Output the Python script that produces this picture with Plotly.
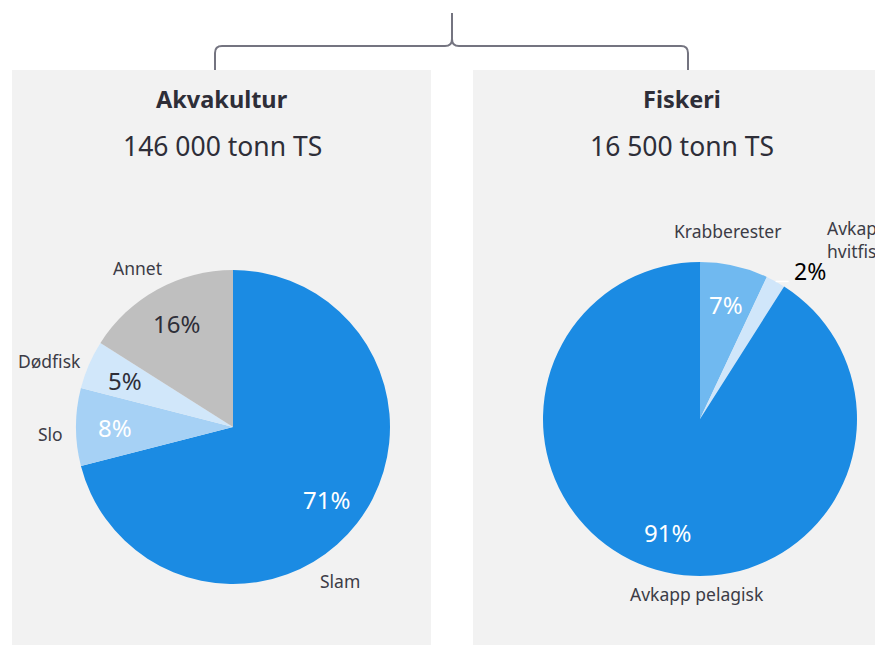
import math
import plotly.graph_objects as go

# ---- data ----
akva_labels = ["Slam", "Slo", "Dødfisk", "Annet"]
akva_values = [71, 8, 5, 16]
akva_colors = ["#1b8be3", "#a6d1f5", "#d1e7fa", "#bfbfbf"]
akva_text_colors = ["#ffffff", "#ffffff", "#2e2e38", "#2e2e38"]

fisk_labels = ["Krabberester", "Avkapp<br>hvitfisk", "Avkapp pelagisk"]
fisk_values = [7, 2, 91]
fisk_colors = ["#70b9f0", "#d0e6fa", "#1b8be3"]
fisk_text_colors = ["#ffffff", "#000000", "#ffffff"]

panel_titles = ["Akvakultur", "Fiskeri"]
panel_subtitles = ["146 000 tonn TS", "16 500 tonn TS"]

W, H = 875, 645
FONT = "Noto Sans"
LABEL_COLOR = "#3c3c46"
TITLE_COLOR = "#2e2e38"


def px(x):
    return x / W


def py(y):
    return 1 - y / H


fig = go.Figure()

# pie geometry in pixels (centre x, centre y, radius)
pies = [
    dict(cx=233, cy=427, r=157, labels=akva_labels, values=akva_values,
         colors=akva_colors, tcol=akva_text_colors),
    dict(cx=700, cy=419, r=157, labels=fisk_labels, values=fisk_values,
         colors=fisk_colors, tcol=fisk_text_colors),
]

for p in pies:
    fig.add_trace(go.Pie(
        labels=p["labels"], values=p["values"],
        marker=dict(colors=p["colors"], line=dict(width=0)),
        sort=False, direction="clockwise", rotation=0,
        textinfo="none", hoverinfo="label+percent", showlegend=False,
        domain=dict(x=[px(p["cx"] - p["r"]), px(p["cx"] + p["r"])],
                    y=[py(p["cy"] + p["r"]), py(p["cy"] - p["r"])]),
    ))

annotations = []
shapes = []

# grey panels
for x0, x1 in [(12, 431), (473, 892)]:
    shapes.append(dict(type="rect", xref="paper", yref="paper",
                       x0=px(x0), x1=px(x1), y0=py(645), y1=py(70),
                       fillcolor="#f2f2f2", line=dict(width=0), layer="below"))

# bracket over both panels
pts = [
    ("M", 215, 70), ("L", 215, 53), ("Q", 215, 46, 222, 46), ("L", 445, 46),
    ("Q", 452, 46, 452, 39), ("L", 452, 13), ("M", 452, 39),
    ("Q", 452, 46, 459, 46), ("L", 681, 46), ("Q", 688, 46, 688, 53), ("L", 688, 70),
]
path = ""
for seg in pts:
    cmd = seg[0]
    coords = seg[1:]
    parts = []
    for i in range(0, len(coords), 2):
        parts.append(f"{px(coords[i]):.5f},{py(coords[i + 1]):.5f}")
    path += cmd + " ".join(parts) + " "
shapes.append(dict(type="path", xref="paper", yref="paper", path=path.strip(),
                   line=dict(color="#747480", width=2)))

# titles
for cx, title, sub in [(222, panel_titles[0], panel_subtitles[0]),
                       (682, panel_titles[1], panel_subtitles[1])]:
    annotations.append(dict(x=px(cx), y=py(99), xref="paper", yref="paper",
                            text=f"<b>{title}</b>", showarrow=False,
                            font=dict(family=FONT, size=23.5, color=TITLE_COLOR),
                            xanchor="center", yanchor="middle"))
    annotations.append(dict(x=px(cx), y=py(146), xref="paper", yref="paper",
                            text=sub, showarrow=False,
                            font=dict(family=FONT, size=26.5, color=TITLE_COLOR),
                            xanchor="center", yanchor="middle"))


def slice_mid_angles(values):
    total = sum(values)
    acc = 0
    mids = []
    for v in values:
        mids.append((acc + v / 2) / total * 2 * math.pi)
        acc += v
    return mids


# percentage labels
for k, p in enumerate(pies):
    mids = slice_mid_angles(p["values"])
    total = sum(p["values"])
    for i, (v, a) in enumerate(zip(p["values"], mids)):
        label = f"{round(v / total * 100)}%"
        if k == 1 and i == 1:
            # small slice: label outside with a short leader line
            ex = p["cx"] + p["r"] * math.sin(a)
            ey = p["cy"] - p["r"] * math.cos(a)
            shapes.append(dict(type="line", xref="paper", yref="paper",
                               x0=px(ex), y0=py(ey), x1=px(ex + 13), y1=py(ey),
                               line=dict(color="#ffffff", width=1.5)))
            annotations.append(dict(x=px(ex + 16), y=py(ey - 10), xref="paper", yref="paper",
                                    text=label, showarrow=False,
                                    font=dict(family=FONT, size=23, color=p["tcol"][i]),
                                    xanchor="left", yanchor="middle"))
            continue
        rr = 0.75 * p["r"]
        x = p["cx"] + rr * math.sin(a)
        y = p["cy"] - rr * math.cos(a)
        annotations.append(dict(x=px(x), y=py(y), xref="paper", yref="paper",
                                text=label, showarrow=False,
                                font=dict(family=FONT, size=24, color=p["tcol"][i]),
                                xanchor="center", yanchor="middle"))

# category labels outside the pies
outside = [
    (akva_labels[0], 340, 581, "center"),
    (akva_labels[1], 50, 434, "center"),
    (akva_labels[2], 49, 361, "center"),
    (akva_labels[3], 137, 268, "center"),
    (fisk_labels[0], 727, 231, "center"),
    (fisk_labels[1], 825, 239, "left"),
    (fisk_labels[2], 697, 594, "center"),
]
for text, x, y, anchor in outside:
    annotations.append(dict(x=px(x), y=py(y), xref="paper", yref="paper",
                            text=text, showarrow=False, align="left",
                            font=dict(family=FONT, size=17.5, color=LABEL_COLOR),
                            xanchor=anchor, yanchor="middle"))

fig.update_layout(
    width=W, height=H,
    margin=dict(l=0, r=0, t=0, b=0),
    paper_bgcolor="#ffffff", plot_bgcolor="#ffffff",
    shapes=shapes, annotations=annotations,
    font=dict(family=FONT),
)

fig.write_html("out.html")
